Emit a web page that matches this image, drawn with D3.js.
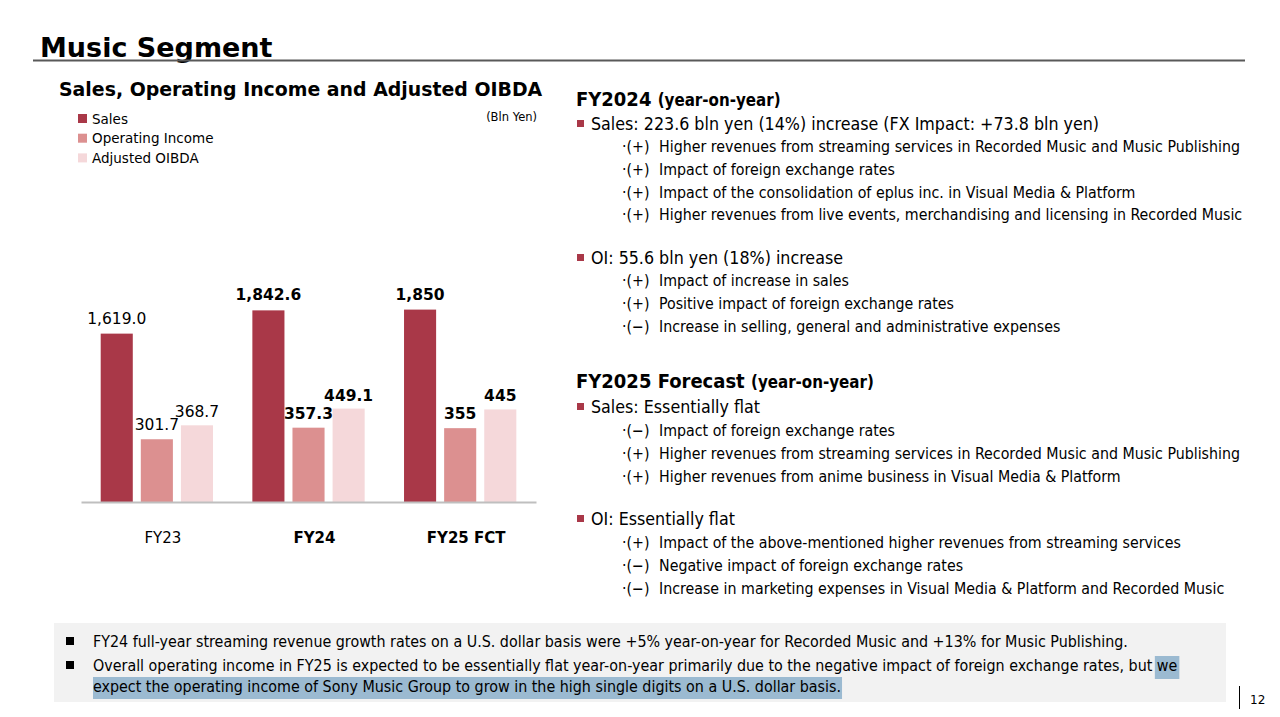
<!DOCTYPE html>
<html>

<head>
    <meta charset='utf-8'>
    <title>Music Segment</title>
    <script type="text/javascript" src="https://cdnjs.cloudflare.com/ajax/libs/d3/7.8.5/d3.min.js"></script>
    <style>
        body { margin: 0; background: #fff; }
        text { font-family: "DejaVu Sans", Verdana, sans-serif; fill: #000; }
        .cond { font-stretch: condensed; font-family: "DejaVu Sans Condensed", "DejaVu Sans", sans-serif; }
    </style>
</head>

<body>
    <script>
        // chart data (Bln Yen)
        const categories = ["FY23", "FY24", "FY25 FCT"];
        const sales = [1619.0, 1842.6, 1850];
        const operatingIncome = [301.7, 357.3, 355];
        const adjustedOibda = [368.7, 449.1, 445];
        const salesLabels = ["1,619.0", "1,842.6", "1,850"];
        const oiLabels = ["301.7", "357.3", "355"];
        const oibdaLabels = ["368.7", "449.1", "445"];
        const boldCategory = [false, true, true];
        const seriesNames = ["Sales", "Operating Income", "Adjusted OIBDA"];
        const seriesColors = ["#a93848", "#dc9090", "#f5d8da"];

        // commentary text
        const fy24SalesItems = [
            ["+", "Higher revenues from streaming services in Recorded Music and Music Publishing"],
            ["+", "Impact of foreign exchange rates"],
            ["+", "Impact of the consolidation of eplus inc. in Visual Media & Platform"],
            ["+", "Higher revenues from live events, merchandising and licensing in Recorded Music"]
        ];
        const fy24OiItems = [
            ["+", "Impact of increase in sales"],
            ["+", "Positive impact of foreign exchange rates"],
            ["−", "Increase in selling, general and administrative expenses"]
        ];
        const fy25SalesItems = [
            ["−", "Impact of foreign exchange rates"],
            ["+", "Higher revenues from streaming services in Recorded Music and Music Publishing"],
            ["+", "Higher revenues from anime business in Visual Media & Platform"]
        ];
        const fy25OiItems = [
            ["+", "Impact of the above-mentioned higher revenues from streaming services"],
            ["−", "Negative impact of foreign exchange rates"],
            ["−", "Increase in marketing expenses in Visual Media & Platform and Recorded Music"]
        ];

        const w = 1280;
        const h = 717;

        const svg = d3.select("body")
            .append("svg")
            .attr("width", w)
            .attr("height", h);

        // page title
        svg.append("text")
            .attr("x", 40).attr("y", 57)
            .style("font-size", "27px").style("font-weight", "bold")
            .text("Music Segment");
        svg.append("line")
            .attr("x1", 33).attr("x2", 1245)
            .attr("y1", 60.5).attr("y2", 60.5)
            .attr("stroke", "#595959").attr("stroke-width", 2);

        svg.append("text")
            .attr("x", 59).attr("y", 96)
            .style("font-size", "18.9px").style("font-weight", "bold")
            .text("Sales, Operating Income and Adjusted OIBDA");

        svg.append("text")
            .attr("x", 537).attr("y", 121)
            .attr("text-anchor", "end")
            .style("font-size", "11.5px")
            .text("(Bln Yen)");

        // legend
        const legend = svg.append("g").selectAll("g")
            .data(seriesNames)
            .enter()
            .append("g")
            .attr("transform", (d, i) => "translate(78," + (114 + i * 19.7) + ")");
        legend.append("rect")
            .attr("width", 9).attr("height", 9)
            .attr("fill", (d, i) => seriesColors[i]);
        legend.append("text")
            .attr("x", 14).attr("y", 9.5)
            .style("font-size", "13.5px")
            .text(d => d);

        // bars
        const baseY = 502;
        const x0 = d3.scaleBand().domain(categories).range([81, 536]);
        const x1 = d3.scaleBand().domain(seriesNames).range([19.7, 132]).paddingInner(0.2);
        const ySales = d3.scaleLinear().domain([0, 3000]).range([baseY, 190]);
        const yIncome = d3.scaleLinear().domain([0, 1500]).range([baseY, 190]);

        const rows = categories.map((c, i) => [
            { cat: c, s: seriesNames[0], v: sales[i], y: ySales, label: salesLabels[i], bold: boldCategory[i], color: seriesColors[0], dy: -10 },
            { cat: c, s: seriesNames[1], v: operatingIncome[i], y: yIncome, label: oiLabels[i], bold: boldCategory[i], color: seriesColors[1], dy: -9 },
            { cat: c, s: seriesNames[2], v: adjustedOibda[i], y: yIncome, label: oibdaLabels[i], bold: boldCategory[i], color: seriesColors[2], dy: -8 }
        ]).flat();

        svg.append("g").selectAll("rect")
            .data(rows)
            .enter()
            .append("rect")
            .attr("x", d => x0(d.cat) + x1(d.s))
            .attr("width", x1.bandwidth())
            .attr("y", d => d.y(d.v))
            .attr("height", d => baseY - d.y(d.v))
            .attr("fill", d => d.color);

        svg.append("g").selectAll("text")
            .data(rows)
            .enter()
            .append("text")
            .attr("x", d => x0(d.cat) + x1(d.s) + x1.bandwidth() / 2)
            .attr("y", d => d.y(d.v) + d.dy)
            .attr("text-anchor", "middle")
            .style("font-size", "15.5px")
            .style("font-weight", d => d.bold ? "bold" : "normal")
            .text(d => d.label);

        const xAxis = d3.axisBottom(x0).tickSize(0).tickPadding(0);
        const axisG = svg.append("g")
            .attr("transform", "translate(0," + baseY + ")")
            .call(xAxis);
        axisG.select(".domain").attr("stroke", "#bfbfbf").attr("stroke-width", 2);
        axisG.selectAll(".tick text")
            .attr("x", 6).attr("y", 41).attr("dy", 0)
            .style("font-size", "15px")
            .style("font-family", "\"DejaVu Sans\", Verdana, sans-serif")
            .style("fill", "#000")
            .style("font-weight", (d, i) => boldCategory[i] ? "bold" : "normal");

        // right commentary
        const right = svg.append("g").attr("class", "cond");

        function heading(y, main, sub) {
            const t = right.append("text").attr("x", 576).attr("y", y);
            t.append("tspan").style("font-size", "20px").style("font-weight", "bold").text(main + " ");
            t.append("tspan").style("font-size", "16.8px").style("font-weight", "bold").text(sub);
        }
        function bullet(y, str) {
            right.append("rect").attr("x", 577).attr("y", y - 10).attr("width", 7).attr("height", 7).attr("fill", "#a93848");
            right.append("text").attr("x", 591).attr("y", y).style("font-size", "17.7px").text(str);
        }
        function items(y0, list) {
            list.forEach((d, i) => {
                const y = y0 + i * 22.8;
                const t = right.append("text").attr("y", y).style("font-size", "15.8px");
                t.append("tspan").attr("x", 622).text("·(" + d[0] + ")");
                t.append("tspan").attr("x", 659).text(d[1]);
            });
        }

        heading(106, "FY2024", "(year-on-year)");
        bullet(130, "Sales: 223.6 bln yen (14%) increase (FX Impact: +73.8 bln yen)");
        items(152, fy24SalesItems);
        bullet(264, "OI: 55.6 bln yen (18%) increase");
        items(286, fy24OiItems);
        heading(388, "FY2025 Forecast", "(year-on-year)");
        bullet(413, "Sales: Essentially flat");
        items(436, fy25SalesItems);
        bullet(525, "OI: Essentially flat");
        items(548, fy25OiItems);

        // notes box
        const notes = svg.append("g").attr("class", "cond");
        notes.append("rect").attr("x", 54).attr("y", 623).attr("width", 1172).attr("height", 79).attr("fill", "#f2f2f2");
        const hl = notes.append("g");
        [641, 665].forEach(y => notes.append("rect").attr("x", 66).attr("y", y - 4).attr("width", 8).attr("height", 8).attr("fill", "#000"));
        const noteLines = [
            "FY24 full-year streaming revenue growth rates on a U.S. dollar basis were +5% year-on-year for Recorded Music and +13% for Music Publishing.",
            "Overall operating income in FY25 is expected to be essentially flat year-on-year primarily due to the negative impact of foreign exchange rates, but we",
            "expect the operating income of Sony Music Group to grow in the high single digits on a U.S. dollar basis."
        ];
        const noteText = notes.selectAll("text.note")
            .data(noteLines)
            .enter()
            .append("text")
            .attr("class", "note")
            .attr("x", 93)
            .attr("y", (d, i) => [647, 671, 692][i])
            .style("font-size", "15.9px")
            .text(d => d);

        // highlight behind "we" and the last line
        const n2 = noteText.nodes()[1];
        const weStart = n2.getSubStringLength(0, noteLines[1].length - 2);
        const n2w = n2.getComputedTextLength();
        hl.append("rect").attr("x", 93 + weStart - 2).attr("y", 656).attr("width", n2w - weStart + 4).attr("height", 23).attr("fill", "#9bbad1");
        const n3w = noteText.nodes()[2].getComputedTextLength();
        hl.append("rect").attr("x", 93).attr("y", 677).attr("width", n3w + 1).attr("height", 22).attr("fill", "#9bbad1");

        // page number
        svg.append("line").attr("x1", 1239.5).attr("x2", 1239.5).attr("y1", 686).attr("y2", 709).attr("stroke", "#000");
        svg.append("text").attr("x", 1250).attr("y", 704).style("font-size", "12px").text("12");
    </script>
</body>

</html>
